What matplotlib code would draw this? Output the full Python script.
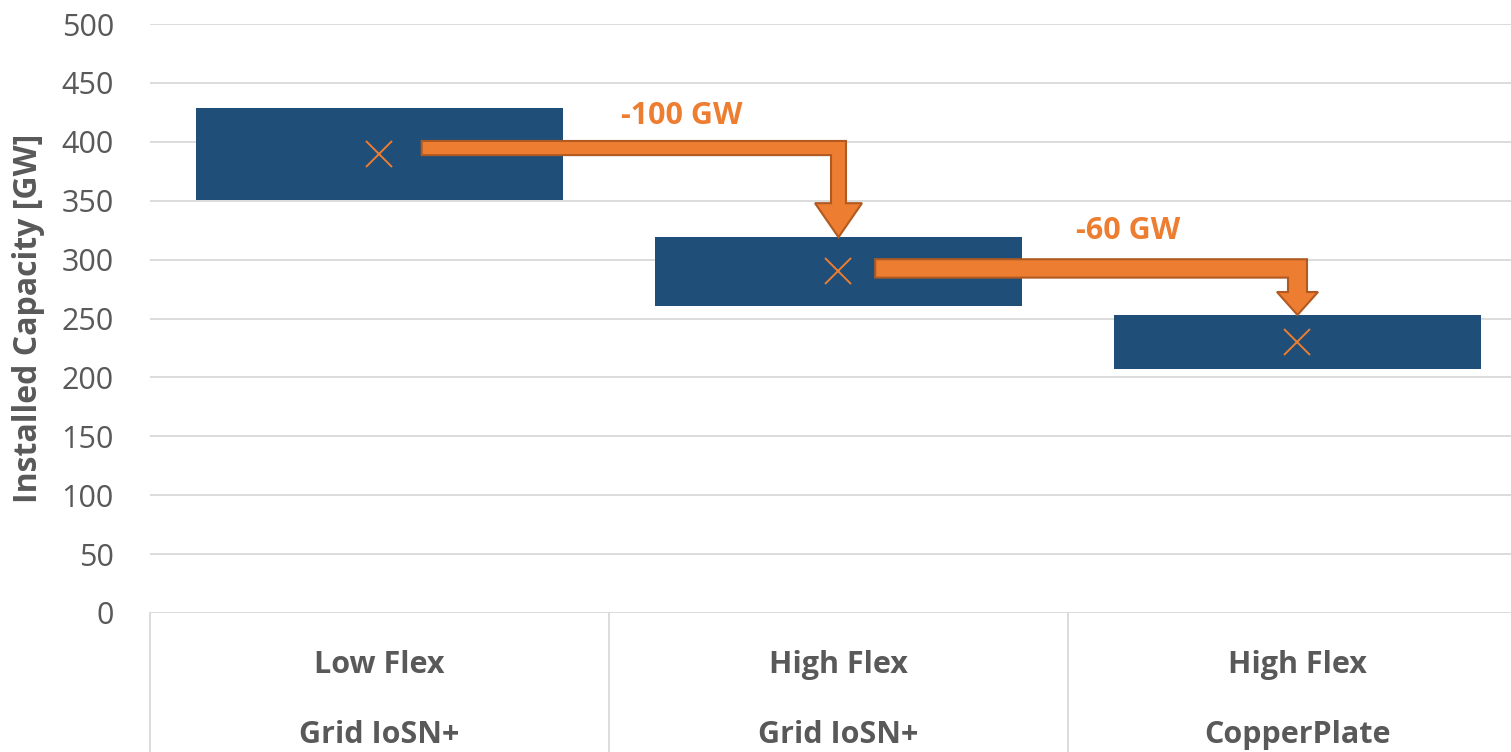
import matplotlib
matplotlib.use("Agg")
import matplotlib.pyplot as plt
from matplotlib.patches import Polygon
from matplotlib.transforms import blended_transform_factory

# Scenario categories (two-level axis)
flex_level = ["Low Flex", "High Flex", "High Flex"]
grid_level = ["Grid IoSN+", "Grid IoSN+", "CopperPlate"]

# Installed capacity range and mean [GW]
cap_low = [351, 261, 207]
cap_high = [429, 319, 253]
cap_mean = [390, 290, 230]

# Step annotations between scenarios
step_labels = ["-100 GW", "-60 GW"]

y_ticks = list(range(0, 501, 50))

BLUE = "#1F4E79"
ORANGE = "#ED7D31"
ORANGE_EDGE = "#B05A22"
GRID = "#D9D9D9"
TXT = "#595959"

plt.rcParams["font.family"] = ["Open Sans", "DejaVu Sans"]

fig = plt.figure(figsize=(15.11, 7.52), dpi=100)
ax = fig.add_axes([150 / 1511, 1 - 613 / 752, 1377 / 1511, 589 / 752])

x = list(range(len(flex_level)))
heights = [h - l for h, l in zip(cap_high, cap_low)]
ax.bar(x, heights, bottom=cap_low, width=0.8, color=BLUE, zorder=2)
ax.plot(x, cap_mean, linestyle="none", marker="x", ms=19, mew=1.4,
        color=ORANGE, zorder=3)

ax.set_xlim(-0.5, len(x) - 0.5)
ax.set_ylim(0, 500)
ax.set_yticks(y_ticks)
ax.set_yticklabels([str(v) for v in y_ticks], fontsize=22, color=TXT)
ax.tick_params(axis="y", length=0, pad=26)
ax.set_xticks([])
ax.grid(axis="y", color=GRID, linewidth=1.3, zorder=0)
ax.set_axisbelow(True)
for s in ax.spines.values():
    s.set_visible(False)

ax.set_ylabel("Installed Capacity [GW]", fontsize=23, fontweight="bold",
              color=TXT, labelpad=12)

# Two-level category axis with separator lines
trans = blended_transform_factory(ax.transData, ax.transAxes)
for b in [i - 0.5 for i in range(len(x) + 1)]:
    ax.plot([b, b], [0, -0.24], transform=trans, color=GRID, lw=1.3,
            clip_on=False)
for i in x:
    ax.text(i, -0.088, flex_level[i], transform=trans, ha="center",
            va="center", fontsize=22, fontweight="bold", color=TXT)
    ax.text(i, -0.207, grid_level[i], transform=trans, ha="center",
            va="center", fontsize=22, fontweight="bold", color=TXT)

# Elbow arrows showing the reduction between consecutive scenarios
arrow_style = [
    dict(dy=4.7, sh=6.0, sw=0.0163, hw=0.0512, hl=28.9, x_off=0.092,
         lx=0.659, ly=422),
    dict(dy=2.5, sh=7.8, sw=0.0207, hw=0.0447, hl=19.5, x_off=0.08,
         lx=1.632, ly=324),
]
for i, st in enumerate(arrow_style):
    x0 = x[i] + st["x_off"]
    x1 = x[i + 1]
    yc = cap_mean[i] + st["dy"]
    tip = cap_high[i + 1]
    sh, sw, hw, hl = st["sh"], st["sw"], st["hw"], st["hl"]
    pts = [
        (x0, yc + sh), (x1 + sw, yc + sh), (x1 + sw, tip + hl),
        (x1 + hw, tip + hl), (x1, tip), (x1 - hw, tip + hl),
        (x1 - sw, tip + hl), (x1 - sw, yc - sh), (x0, yc - sh),
    ]
    ax.add_patch(Polygon(pts, closed=True, facecolor=ORANGE,
                         edgecolor=ORANGE_EDGE, linewidth=1.5, zorder=4,
                         joinstyle="miter"))
    ax.text(st["lx"], st["ly"], step_labels[i], ha="center", va="center",
            fontsize=22, fontweight="bold", color=ORANGE, zorder=5)

fig.savefig("out.png", dpi=100)
